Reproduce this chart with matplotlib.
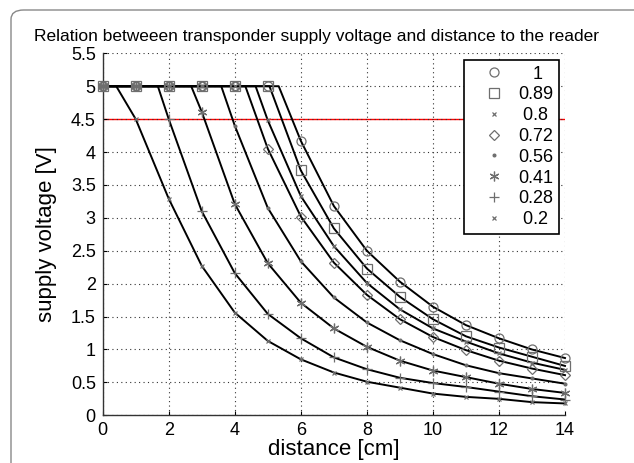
import matplotlib
matplotlib.use("Agg")
import matplotlib.pyplot as plt
from matplotlib.patches import FancyBboxPatch
import numpy as np

plt.rcParams['font.family'] = ['Liberation Sans', 'DejaVu Sans']

distance = list(range(15))
labels = ["1", "0.89", "0.8", "0.72", "0.56", "0.41", "0.28", "0.2"]
markers = ["o", "s", "x", "D", ".", (6, 2, 0), "+", "x"]
marker_sizes = [6.5, 6.5, 3.5, 5, 4, 7, 7, 3.5]

v_100 = [5, 5, 5, 5, 5, 5.00, 4.17, 3.18, 2.50, 2.03, 1.65, 1.37, 1.17, 1.00, 0.87]
v_089 = [5, 5, 5, 5, 5, 5.00, 3.72, 2.84, 2.23, 1.80, 1.46, 1.20, 1.03, 0.89, 0.75]
v_080 = [5, 5, 5, 5, 5, 4.48, 3.33, 2.57, 2.01, 1.61, 1.32, 1.12, 0.94, 0.80, 0.69]
v_072 = [5, 5, 5, 5, 5, 4.05, 3.02, 2.32, 1.83, 1.46, 1.19, 0.99, 0.83, 0.71, 0.61]
v_056 = [5, 5, 5, 5, 4.40, 3.15, 2.34, 1.79, 1.41, 1.14, 0.93, 0.76, 0.64, 0.56, 0.48]
v_041 = [5, 5, 5, 4.61, 3.21, 2.31, 1.71, 1.32, 1.04, 0.83, 0.68, 0.58, 0.48, 0.40, 0.34]
v_028 = [5, 5, 4.50, 3.10, 2.16, 1.54, 1.17, 0.88, 0.70, 0.57, 0.49, 0.43, 0.36, 0.29, 0.24]
v_020 = [5, 4.50, 3.29, 2.27, 1.56, 1.13, 0.85, 0.65, 0.51, 0.42, 0.33, 0.28, 0.25, 0.20, 0.18]
series = [v_100, v_089, v_080, v_072, v_056, v_041, v_028, v_020]

# distance where each curve leaves the 5 V limit
knee = [5.33, 5.05, 4.63, 4.32, 3.59, 2.68, 1.67, 0.41]
v_max = 5.0
threshold = 4.5

W, H = 634, 463
fig = plt.figure(figsize=(W / 100, H / 100), dpi=100)

# rounded figure frame
frame = FancyBboxPatch((11 / W, -0.05), 1.2, 1.05 - 10 / H,
                       boxstyle="round,pad=0,rounding_size=0.02",
                       transform=fig.transFigure, fill=False,
                       edgecolor="#888888", linewidth=1.0)
fig.patches.append(frame)

ax = fig.add_axes([102.7 / W, 1 - 415.3 / H, (565 - 102.7) / W, (415.3 - 53.3) / H])

ax.axhline(threshold, color="red", linewidth=1.0, zorder=1)


def centered(lab, width=4):
    # pad short labels so they appear centred in the legend column
    diff = width - len(lab)
    if diff == 3:
        return "\u2007\u2008" + lab
    if diff == 1:
        return "\u2008" + lab
    return lab


gray = "#6e6e6e"
for vals, k, lab, m, ms in zip(series, knee, labels, markers, marker_sizes):
    lx = [0, k] + [d for d in distance if d > k]
    ly = [v_max, v_max] + [v for d, v in zip(distance, vals) if d > k]
    ax.plot(lx, ly, color="black", linewidth=1.4, zorder=3, clip_on=False)
    filled = m in (".", (6, 2, 0), "+", "x")
    ax.plot(distance, vals, linestyle="none", marker=m, markersize=ms,
            markeredgecolor=gray, markerfacecolor=gray if filled else "none",
            markeredgewidth=0.9, label=centered(lab), zorder=4, clip_on=False)

ax.set_xlim(0, 14)
ax.set_ylim(0, 5.5)
ax.set_xticks(np.arange(0, 15, 2))
ax.set_yticks(np.arange(0, 5.51, 0.5))
ax.set_yticklabels(["0", "0.5", "1", "1.5", "2", "2.5", "3", "3.5", "4", "4.5", "5", "5.5"])
ax.tick_params(direction="in", length=3, labelsize=13, colors="black", width=0.8, pad=5)
ax.grid(True, linestyle=(0, (1, 3)), color="#333333", linewidth=0.8)
for s in ["top", "right"]:
    ax.spines[s].set_visible(False)
for s in ["left", "bottom"]:
    ax.spines[s].set_color("#333333")
    ax.spines[s].set_linewidth(1.0)

ax.set_xlabel("distance [cm]", fontsize=16, labelpad=0)
ax.set_ylabel("supply voltage [V]", fontsize=16, labelpad=10)

fig.text(0.5, 1 - 41 / H, "Relation betweeen transponder supply voltage and distance to the reader",
         ha="center", va="baseline", fontsize=12.5)

leg = ax.legend(loc="upper right", bbox_to_anchor=(0.987, 0.981), fontsize=13,
                frameon=True, fancybox=False, edgecolor="black", framealpha=1,
                handlelength=2.65, handletextpad=0.05, labelspacing=0.21,
                borderpad=0.3, borderaxespad=0, numpoints=1)
leg.get_frame().set_linewidth(1.2)
leg.set_zorder(10)

fig.savefig("out.png", dpi=100)
